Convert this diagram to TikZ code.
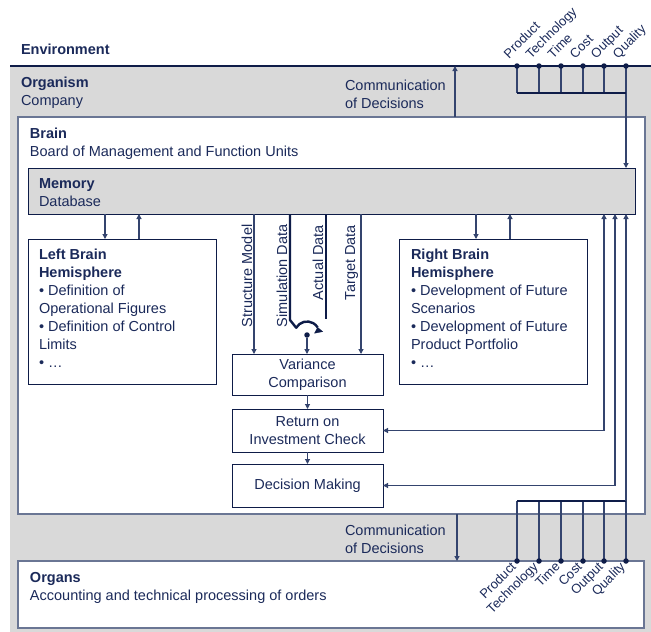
\documentclass[tikz,border=0pt]{standalone}
\usepackage{fontspec}
\setmainfont{Liberation Sans}
\usetikzlibrary{arrows.meta}
\definecolor{navy}{HTML}{1B2A5A}
\definecolor{dline}{HTML}{0E1C48}
\definecolor{tline}{HTML}{34446E}
\definecolor{bframe}{HTML}{6A7694}
\definecolor{lgray}{HTML}{D9D9D9}
\begin{document}
\begin{tikzpicture}[x=1pt,y=1pt,
 every node/.style={inner sep=0pt,outer sep=0pt,text=navy},
 mfont/.style={font=\fontsize{14.5}{18}\selectfont},
 txt/.style={mfont, anchor=north west, align=left},
 bigframe/.style={draw=bframe, line width=1.6pt, fill=white, anchor=north west},
 box/.style={draw=dline, line width=1pt, fill=white, anchor=north west},
 cbox/.style={box, mfont, align=center, minimum width=151pt},
 thinline/.style={draw=tline, line width=1.1pt},
 thickline/.style={draw=dline, line width=2.4pt},
 busline/.style={draw=dline, line width=2.2pt},
 arrowend/.style={-{Triangle[length=5pt,width=5pt]}},
 arrowboth/.style={{Triangle[length=5pt,width=5pt]}-{Triangle[length=5pt,width=5pt]}},
 dotn/.style={circle, fill=dline, minimum size=5.5pt},
 plabel/.style={font=\fontsize{13}{15}\selectfont, text height=9.4pt, text depth=2.8pt},
 vlabel/.style={mfont, rotate=90, anchor=base west}
]
\useasboundingbox (0,0) rectangle (651,-632);
% background regions
\node[fill=lgray, anchor=north west, minimum width=641pt, minimum height=566pt] (org) at (10,-66) {};
\draw[busline, line width=2.5pt] (org.north west) -- (org.north east);
\node[bigframe, minimum width=627pt, minimum height=397pt] (brain) at (18,-117) {};
\node[bigframe, minimum width=626pt, minimum height=67pt] (organs) at (18,-561) {};
\node[box, fill=lgray, minimum width=607pt, minimum height=46pt] (mem) at (28,-168) {};
\node[box, minimum width=188pt, minimum height=145pt] (lb) at (28,-239) {};
\node[box, minimum width=188pt, minimum height=145pt] (rb) at (399,-239) {};
\node[cbox, minimum height=41pt] (var) at (232,-354) {Variance\\Comparison};
\node[cbox, minimum height=43pt] (roi) at (232,-409) {Return on\\Investment Check};
\node[cbox, minimum height=43pt] (dec) at (232,-464) {Decision Making};
% texts
\node[txt] (envt) at (21,-41.4) {\strut\textbf{Environment}};
\node[txt] (orgt) at (21,-74.4) {\strut\textbf{Organism}\\Company};
\node[txt] (brt) at (30,-125.4) {\strut\textbf{Brain}\\Board of Management and Function Units};
\node[txt] (memt) at (39,-175.4) {\strut\textbf{Memory}\\Database};
\node[txt] (lbt) at (39,-246.4) {\strut\textbf{Left Brain}\\\textbf{Hemisphere}\\• Definition of\\Operational Figures\\• Definition of Control\\Limits\\• …};
\node[txt] (rbt) at (411,-246.4) {\strut\textbf{Right Brain}\\\textbf{Hemisphere}\\• Development of Future\\Scenarios\\• Development of Future\\Product Portfolio\\• …};
\node[txt] (c1t) at (345,-77.4) {\strut Communication\\of Decisions};
\node[txt] (c2t) at (345,-522.4) {\strut Communication\\of Decisions};
\node[txt] (ogt) at (30,-569.4) {\strut\textbf{Organs}\\Accounting and technical processing of orders};
% vertical data labels
\node[vlabel] (smt) at (252,-327) {Structure Model};
\node[vlabel] (sdt) at (287,-327) {Simulation Data};
\node[vlabel] (adt) at (323,-300) {Actual Data};
\node[vlabel] (tdt) at (355,-300) {Target Data};
% column coordinates
\coordinate (k105) at (105,0);
\coordinate (k139) at (139,0);
\coordinate (k476) at (476,0);
\coordinate (k510) at (510,0);
\coordinate (k254) at (254,0);
\coordinate (k361) at (361,0);
\coordinate (k604) at (604,0);
\coordinate (k615) at (615,0);
\coordinate (k455) at (455,0);
\coordinate (k457) at (457,0);
% memory <-> hemispheres
\draw[thinline, arrowend] (mem.south -| k105) -- (lb.north -| k105);
\draw[thinline, arrowend] (lb.north -| k139) -- (mem.south -| k139);
\draw[thinline, arrowend] (mem.south -| k476) -- (rb.north -| k476);
\draw[thinline, arrowend] (rb.north -| k510) -- (mem.south -| k510);
% data lines
\draw[thinline, arrowend] (mem.south -| k254) -- (var.north -| k254);
\draw[thinline, arrowend] (mem.south -| k361) -- (var.north -| k361);
\coordinate (adend) at (326,-319);
\draw[thickline] (mem.south -| adend) -- (adend);
\coordinate (sdend) at (290,-320);
\coordinate (arcstart) at (296.2,-327.75);
\draw[thickline, line join=round] (mem.south -| sdend) -- (sdend) -- (arcstart) arc[start angle=150, end angle=32, radius=12.5];
\draw[dline, fill=dline] (317.6,-327.4) -- (322.6,-331.6) -- (314.6,-333.2) -- cycle;
\node[dotn, minimum size=5.5pt] (sw) at (307,-335) {};
\draw[thinline, arrowend] (sw) -- (var.north -| sw);
% process chain
\draw[thinline, arrowend] (var) -- (roi);
\draw[thinline, arrowend] (roi) -- (dec);
\draw[thinline, arrowboth] (roi.east) -| (mem.south -| k604);
\draw[thinline, arrowboth] (dec.east) -| (mem.south -| k615);
% communication arrows
\draw[thinline, arrowend] (brain.north -| k455) -- (org.north -| k455);
\draw[thinline, arrowend] (brain.south -| k457) -- (organs.north -| k457);
% buses
\coordinate (tb1) at (517,-93);
\coordinate (tb2) at (626,-93);
\coordinate (bb1) at (517,-501);
\coordinate (bb2) at (626,-501);
\foreach \x/\n in {517/p, 539/t, 561/ti, 583/c, 604/o, 626/q} {
  \coordinate (top\n) at (\x,-66);
  \coordinate (bot\n) at (\x,-561);
}
\foreach \n in {p, t, ti, c, o} {
  \draw[thinline] (top\n) -- (top\n |- tb1);
}
\draw[thinline, arrowend] (topq) -- (topq |- mem.north);
\draw[busline] (tb1) -- (tb2);
\foreach \n in {p, t, ti, c, o, q} {
  \draw[thinline] (bot\n) -- (bot\n |- bb1);
}
\draw[busline] (bb1) -- (bb2);
\draw[thinline, arrowend] (bb2) -- (bb2 |- mem.south);
\foreach \x/\n/\l in {517/p/Product, 539/t/Technology, 561/ti/Time, 583/c/Cost, 604/o/Output, 626/q/Quality} {
  \node[dotn] (tdot\n) at (top\n) {};
  \node[dotn] (bdot\n) at (bot\n) {};
  \node[plabel, anchor=base west, rotate=45] (tl\n) at (\x-8,-59) {\l};
  \node[plabel, anchor=east, rotate=45] (bl\n) at (\x-2.6,-565.4) {\l};
}
\end{tikzpicture}
\end{document}
